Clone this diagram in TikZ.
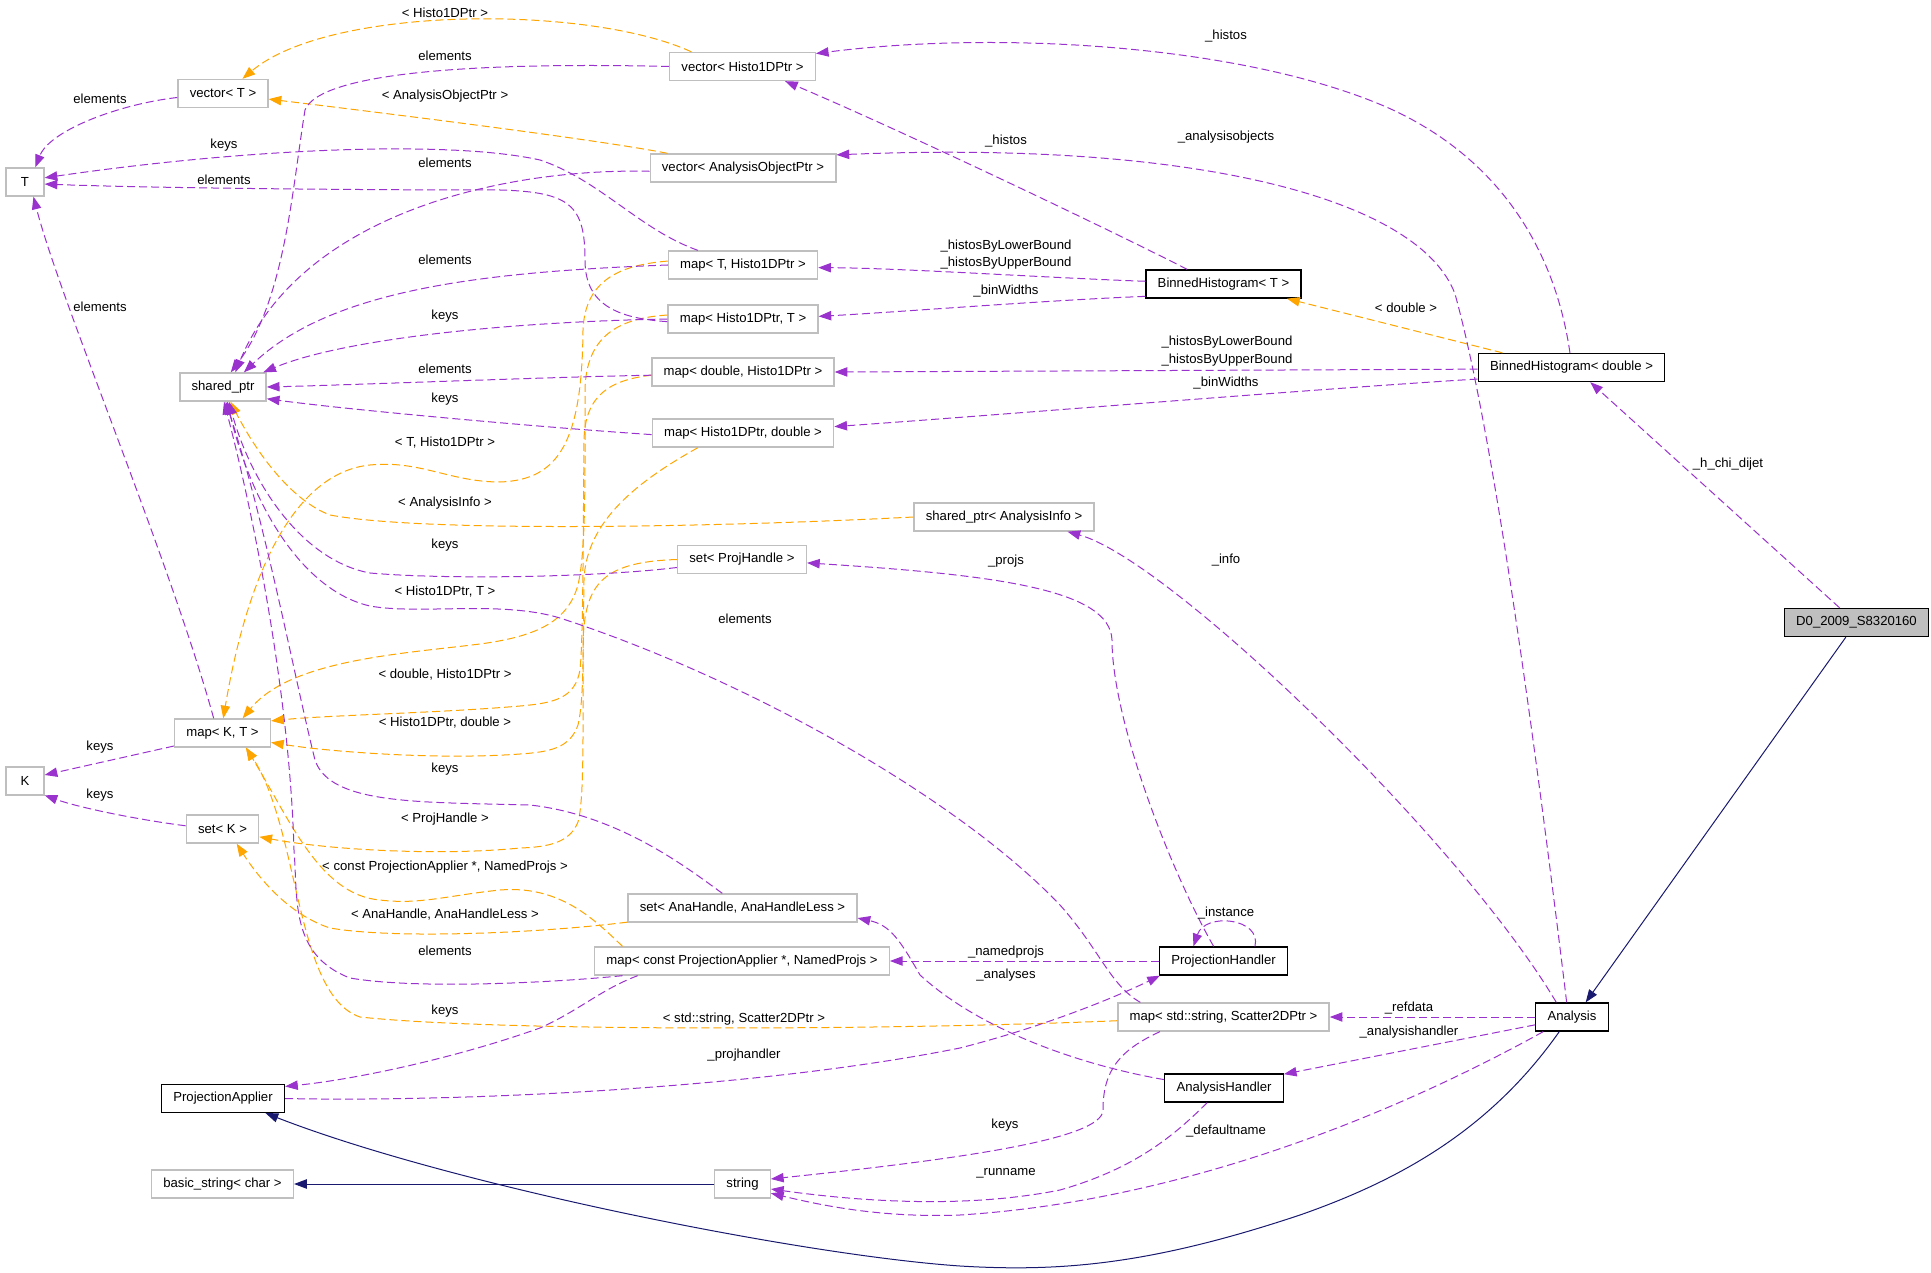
\documentclass[tikz,border=0pt]{standalone}
\usepackage{fontspec}
\setmainfont{Liberation Sans}
\usetikzlibrary{arrows.meta}
\definecolor{useColor}{HTML}{9A32CD}
\definecolor{templColor}{HTML}{FFA500}
\definecolor{inheritColor}{HTML}{191970}
\definecolor{extColor}{HTML}{BFBFBF}

\begin{document}
\pgfmathsetmacro{\pxScale}{0.75}  %% One pixel of the graph, in pt.
\begin{tikzpicture}[%%
  x=\pxScale pt,y=-\pxScale pt,%%
  font=\fontsize{9.86}{12.9}\selectfont,%%
  boxStyle/.style={draw=black,line width=1pt,fill=white,minimum height=21pt,%%
    minimum width=28.5pt,inner xsep=8.8pt,inner ysep=0pt},%%
  extBoxStyle/.style={boxStyle,draw=extColor},%%
  focusBoxStyle/.style={boxStyle,fill=extColor},%%
  useStyle/.style={-{Triangle[length=9.5pt,width=7pt]},useColor,line width=0.75pt,%%
    dash pattern=on 6pt off 3pt},%%
  templStyle/.style={useStyle,templColor},%%
  inheritStyle/.style={-{Triangle[length=9.5pt,width=7pt]},inheritColor,line width=0.75pt},%%
  labelStyle/.style={black,align=center,inner sep=0pt}%%
]
\useasboundingbox (0,0) rectangle (1931,1273);
%%
%% Classes.
\node[extBoxStyle] (vT) at (223,93.5) {vector< T >};
\node[extBoxStyle] (vH) at (742.5,66.5) {vector< Histo1DPtr >};
\node[extBoxStyle] (T) at (25,182) {T};
\node[extBoxStyle] (vAO) at (743,168) {vector< AnalysisObjectPtr >};
\node[extBoxStyle] (mTH) at (743,265) {map< T, Histo1DPtr >};
\node[extBoxStyle] (mHT) at (743,319) {map< Histo1DPtr, T >};
\node[extBoxStyle] (mDH) at (743,372) {map< double, Histo1DPtr >};
\node[extBoxStyle] (mHD) at (743,433) {map< Histo1DPtr, double >};
\node[extBoxStyle] (sp) at (223,387) {shared\_ptr};
\node[extBoxStyle] (spAI) at (1004,517) {shared\_ptr< AnalysisInfo >};
\node[extBoxStyle] (sPH) at (742,559.5) {set< ProjHandle >};
\node[boxStyle] (bhT) at (1223.5,284) {BinnedHistogram< T >};
\node[boxStyle] (bhD) at (1571.5,367.5) {BinnedHistogram< double >};
\node[focusBoxStyle] (d0) at (1856.5,622.5) {D0\_2009\_S8320160};
\node[extBoxStyle] (mKT) at (222.5,733) {map< K, T >};
\node[extBoxStyle] (K) at (25,781) {K};
\node[extBoxStyle] (sK) at (222.5,829) {set< K >};
\node[extBoxStyle] (sAH) at (742.5,908) {set< AnaHandle, AnaHandleLess >};
\node[extBoxStyle] (mPA) at (742,961) {map< const ProjectionApplier *, NamedProjs >};
\node[boxStyle] (PA) at (223,1098.5) {ProjectionApplier};
\node[extBoxStyle] (bs) at (222.5,1184) {basic\_string< char >};
\node[extBoxStyle] (str) at (742.5,1184) {string};
\node[boxStyle] (PH) at (1223.5,961) {ProjectionHandler};
\node[extBoxStyle] (mSS) at (1223.5,1017) {map< std::string, Scatter2DPtr >};
\node[boxStyle] (An) at (1572,1017) {Analysis};
\node[boxStyle] (AH) at (1224,1088) {AnalysisHandler};
%%
%% Template instances.
\draw[templStyle] (vH.164) .. controls (590,5) and (330,5) .. (vT.37)
  node[labelStyle] at (445,13) {< Histo1DPtr >};
\draw[templStyle] (vAO.169) .. controls (600,140) and (400,115) .. (vT.-7)
  node[labelStyle] at (445,96) {< AnalysisObjectPtr >};
\draw[templStyle] (mTH.177) .. controls (620,265) and (585,280) .. (583,330)
  .. controls (582,440) and (560,480) .. (500,482)
  .. controls (450,482) and (420,460) .. (370,465)
  .. controls (300,472) and (250,560) .. (mKT.87)
  node[labelStyle] at (445,443) {< T, Histo1DPtr >};
\draw[templStyle] (mHT.177) .. controls (620,318) and (586,335) .. (585,390)
  .. controls (585,480) and (586,550) .. (578,585)
  .. controls (568,620) and (540,636) .. (480,644)
  .. controls (400,654) and (290,660) .. (mKT.36)
  node[labelStyle] at (445,592) {< Histo1DPtr, T >};
\draw[templStyle] (mDH.182) .. controls (610,380) and (585,395) .. (584,440)
  .. controls (583,560) and (583,640) .. (580,670)
  .. controls (575,698) and (555,703) .. (520,706)
  .. controls (440,713) and (330,715) .. (mKT.14)
  node[labelStyle] at (445,675) {< double, Histo1DPtr >};
\draw[templStyle] (mHD.198) .. controls (640,480) and (586,520) .. (584,580)
  .. controls (583,650) and (584,700) .. (578,725)
  .. controls (570,748) and (550,752) .. (520,754)
  .. controls (440,760) and (330,752) .. (mKT.-11)
  node[labelStyle] at (445,723) {< Histo1DPtr, double >};
\draw[templStyle] (spAI.west) .. controls (700,528) and (420,532) .. (330,515)
  .. controls (290,500) and (255,450) .. (sp.-63)
  node[labelStyle] at (445,503) {< AnalysisInfo >};
\draw[templStyle] (sPH.west) .. controls (600,562) and (583,585) .. (583,650)
  .. controls (583,740) and (584,800) .. (578,822)
  .. controls (570,842) and (550,847) .. (520,848)
  .. controls (440,856) and (330,850) .. (sK.-12)
  node[labelStyle] at (445,819) {< ProjHandle >};
\draw[templStyle] (mPA.173) .. controls (595,920) and (560,885) .. (500,890)
  .. controls (450,895) and (420,905) .. (380,900)
  .. controls (320,895) and (290,820) .. (mKT.-32)
  node[labelStyle] at (445,867) {< const ProjectionApplier *, NamedProjs >};
\draw[templStyle] (sAH.187) .. controls (550,932) and (400,940) .. (330,928)
  .. controls (290,915) and (260,880) .. (sK.-46)
  node[labelStyle] at (445,915) {< AnaHandle, AnaHandleLess >};
\draw[templStyle] (mSS.182) .. controls (900,1030) and (500,1032) .. (360,1017)
  .. controls (295,995) and (300,830) .. (mKT.-32)
  node[labelStyle] at (744,1019) {< std::string, Scatter2DPtr >};
\draw[templStyle] (bhD.168) -- (bhT.-13)
  node[labelStyle] at (1406,308) {< double >};
%%
%% Members.
\draw[useStyle] (vT.185) .. controls (120,104) and (50,130) .. (T.55)
  node[labelStyle] at (100,99) {elements};
\draw[useStyle] (vH.west) .. controls (480,62) and (320,72) .. (305,110)
  .. controls (292,190) and (285,300) .. (sp.62)
  node[labelStyle] at (445,56) {elements};
\draw[useStyle] (vAO.182) .. controls (500,168) and (300,215) .. (sp.50)
  node[labelStyle] at (445,163) {elements};
\draw[useStyle] (mTH.162) .. controls (640,230) and (600,180) .. (540,160)
  .. controls (450,140) and (250,148) .. (T.12)
  node[labelStyle] at (224,145) {keys};
\draw[useStyle] (mHT.182) .. controls (610,318) and (585,300) .. (585,260)
  .. controls (585,205) and (570,192) .. (500,190)
  .. controls (350,190) and (150,188) .. (T.-6)
  node[labelStyle] at (224,180) {elements};
\draw[useStyle] (mTH.180) .. controls (480,272) and (330,290) .. (sp.35)
  node[labelStyle] at (445,260) {elements};
\draw[useStyle] (mHT.180) .. controls (500,322) and (340,340) .. (sp.20)
  node[labelStyle] at (445,316) {keys};
\draw[useStyle] (mDH.182) .. controls (550,377) and (350,385) .. (sp.0)
  node[labelStyle] at (445,369) {elements};
\draw[useStyle] (mHD.181) .. controls (550,428) and (350,410) .. (sp.-15)
  node[labelStyle] at (445,399) {keys};
\draw[useStyle] (sPH.187) .. controls (600,577) and (450,580) .. (370,573)
  .. controls (300,560) and (250,480) .. (sp.-68)
  node[labelStyle] at (445,545) {keys};
\draw[useStyle] (mSS.170) .. controls (1110,985) and (1100,950) .. (1060,905)
  .. controls (960,800) and (750,680) .. (560,618)
  .. controls (500,600) and (420,615) .. (370,606)
  .. controls (300,590) and (250,500) .. (sp.-74)
  node[labelStyle] at (745,619) {elements};
\draw[useStyle] (sAH.144) .. controls (690,870) and (620,815) .. (530,805)
  .. controls (420,802) and (330,805) .. (315,760)
  .. controls (295,680) and (265,520) .. (sp.-80)
  node[labelStyle] at (445,769) {keys};
\draw[useStyle] (mPA.187) .. controls (560,982) and (420,990) .. (350,978)
  .. controls (290,955) and (298,900) .. (294,850)
  .. controls (290,700) and (255,520) .. (sp.-86)
  node[labelStyle] at (445,951) {elements};
\draw[useStyle] (mKT.121) .. controls (170,560) and (60,300) .. (T.-60)
  node[labelStyle] at (100,307) {elements};
\draw[useStyle] (mKT.195) -- (K.17)
  node[labelStyle] at (100,747) {keys};
\draw[useStyle] (sK.175) .. controls (140,820) and (80,808) .. (K.-36)
  node[labelStyle] at (100,795) {keys};
\draw[useStyle] (mPA.188) .. controls (600,990) and (580,1010) .. (540,1028)
  .. controls (450,1060) and (350,1080) .. (PA.11)
  node[labelStyle] at (445,1011) {keys};
\draw[useStyle] (bhD.96) .. controls (1555,250) and (1500,160) .. (1393,110)
  .. controls (1250,45) and (1000,30) .. (vH.10)
  node[labelStyle] at (1226,36) {\_histos};
\draw[useStyle] (bhT.158) .. controls (1100,225) and (900,130) .. (vH.-19)
  node[labelStyle] at (1006,141) {\_histos};
\draw[useStyle] (An.110) .. controls (1530,700) and (1490,420) .. (1455,294)
  .. controls (1420,200) and (1200,140) .. (vAO.8)
  node[labelStyle] at (1226,137) {\_analysisobjects};
\draw[useStyle] (bhT.178) .. controls (1050,278) and (900,268) .. (mTH.-2)
  node[labelStyle] at (1006,255) {\_histosByLowerBound\\\_histosByUpperBound};
\draw[useStyle] (bhT.189) .. controls (1050,300) and (900,312) .. (mHT.2)
  node[labelStyle] at (1006,291) {\_binWidths};
\draw[useStyle] (bhD.181) -- (mDH.0)
  node[labelStyle] at (1227,351) {\_histosByLowerBound\\\_histosByUpperBound};
\draw[useStyle] (bhD.187) .. controls (1300,390) and (1000,415) .. (mHD.4)
  node[labelStyle] at (1226,383) {\_binWidths};
\draw[useStyle] (d0.139) -- (bhD.-38)
  node[labelStyle] at (1728,464) {\_h\_chi\_dijet};
\draw[useStyle] (An.137) .. controls (1460,840) and (1170,560) .. (spAI.-13)
  node[labelStyle] at (1226,560) {\_info};
\draw[useStyle] (PH.124) .. controls (1170,870) and (1112,720) .. (1112,640)
  .. controls (1110,590) and (1000,575) .. (sPH.-3)
  node[labelStyle] at (1006,561) {\_projs};
\draw[useStyle] (PH.25) .. controls (1262,918) and (1205,912) .. (PH.154)
  node[labelStyle] at (1226,913) {\_instance};
\draw[useStyle] (PH.west) -- (mPA.east)
  node[labelStyle] at (1006,952) {\_namedprojs};
\draw[useStyle] (PA.0) .. controls (450,1102) and (750,1090) .. (960,1048)
  .. controls (1050,1025) and (1120,995) .. (PH.193)
  node[labelStyle] at (744,1055) {\_projhandler};
\draw[useStyle] (AH.172) .. controls (1080,1065) and (980,1030) .. (920,975)
  .. controls (900,940) and (890,925) .. (sAH.-5)
  node[labelStyle] at (1006,975) {\_analyses};
\draw[useStyle] (An.west) -- (mSS.east)
  node[labelStyle] at (1409,1008) {\_refdata};
\draw[useStyle] (An.192) -- (AH.13)
  node[labelStyle] at (1409,1032) {\_analysishandler};
\draw[useStyle] (mSS.193) .. controls (1120,1050) and (1103,1070) .. (1103,1110)
  .. controls (1103,1140) and (950,1160) .. (str.10)
  node[labelStyle] at (1005,1125) {keys};
\draw[useStyle] (An.207) .. controls (1420,1100) and (1200,1200) .. (960,1215)
  .. controls (880,1218) and (820,1205) .. (str.-18)
  node[labelStyle] at (1226,1131) {\_defaultname};
\draw[useStyle] (AH.221) .. controls (1170,1140) and (1130,1170) .. (1060,1190)
  .. controls (960,1210) and (850,1200) .. (str.-10)
  node[labelStyle] at (1006,1173) {\_runname};
%%
%% Base classes.
\draw[inheritStyle] (str.west) -- (bs.east);
\draw[inheritStyle] (d0.234) -- (An.47);
\draw[inheritStyle] (An.229) .. controls (1490,1130) and (1400,1180) .. (1300,1215)
  .. controls (1150,1265) and (1060,1272) .. (960,1266)
  .. controls (800,1255) and (450,1185) .. (PA.-19);
\end{tikzpicture}
\end{document}
